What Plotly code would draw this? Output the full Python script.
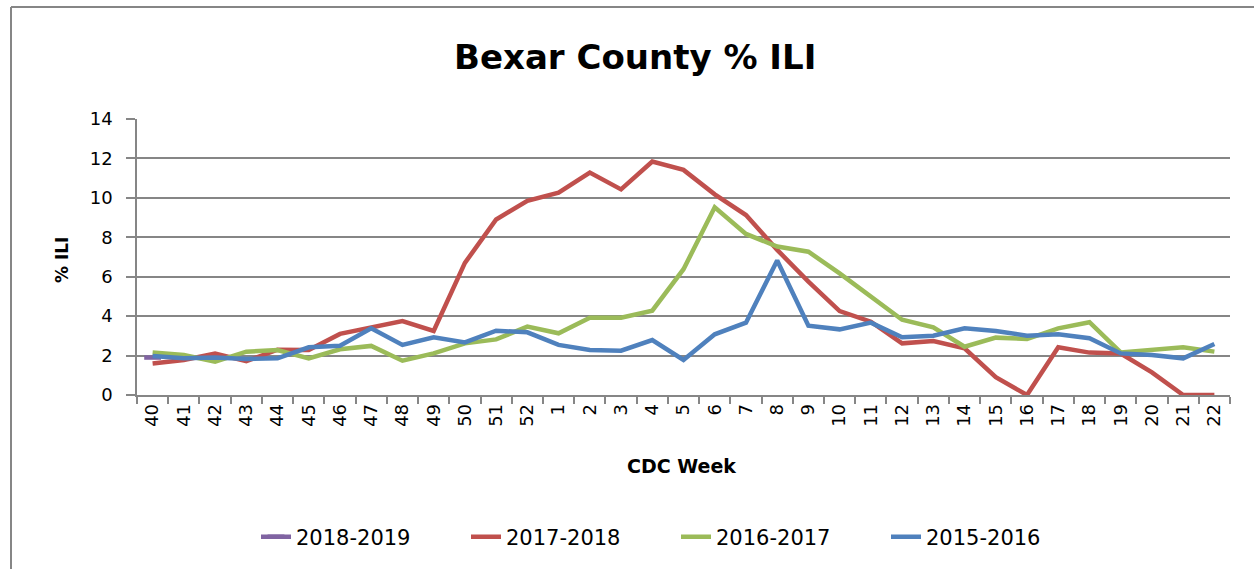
import plotly.graph_objects as go

weeks = ["40", "41", "42", "43", "44", "45", "46", "47", "48", "49", "50", "51", "52",
         "1", "2", "3", "4", "5", "6", "7", "8", "9", "10", "11", "12", "13", "14",
         "15", "16", "17", "18", "19", "20", "21", "22"]

s2018_2019 = [1.9]
s2017_2018 = [1.6, 1.78, 2.1, 1.72, 2.3, 2.28, 3.1, 3.45, 3.75, 3.25, 6.7, 8.9, 9.85,
              10.26, 11.28, 10.43, 11.84, 11.42, 10.18, 9.13, 7.36, 5.75, 4.26, 3.72, 2.62,
              2.74, 2.37, 0.9, 0.0, 2.42, 2.15, 2.1, 1.15, 0.0, 0.0]
s2016_2017 = [2.16, 2.03, 1.69, 2.2, 2.28, 1.86, 2.32, 2.49, 1.74, 2.11, 2.62, 2.82, 3.47,
              3.13, 3.92, 3.92, 4.28, 6.38, 9.52, 8.17, 7.53, 7.27, 6.17, 4.96, 3.82,
              3.43, 2.45, 2.91, 2.84, 3.38, 3.69, 2.16, 2.28, 2.42, 2.2]
s2015_2016 = [1.98, 1.86, 1.9, 1.83, 1.86, 2.42, 2.5, 3.38, 2.54, 2.93, 2.67, 3.26, 3.18,
              2.54, 2.28, 2.25, 2.79, 1.78, 3.08, 3.67, 6.82, 3.52, 3.33, 3.67, 2.93,
              3.01, 3.38, 3.25, 3.01, 3.08, 2.88, 2.11, 2.03, 1.86, 2.59]

FONT = "DejaVu Sans"
GRID = "#868686"

fig = go.Figure()
fig.add_trace(go.Scatter(
    x=weeks[:len(s2018_2019)], y=s2018_2019, name="2018-2019",
    mode="lines+markers", line=dict(color="#8064A2", width=4.5),
    marker=dict(symbol="line-ew", size=12, line=dict(color="#8064A2", width=4.5))))
fig.add_trace(go.Scatter(x=weeks, y=s2017_2018, name="2017-2018", mode="lines",
                         line=dict(color="#C0504D", width=4.5)))
fig.add_trace(go.Scatter(x=weeks, y=s2016_2017, name="2016-2017", mode="lines",
                         line=dict(color="#9BBB59", width=4.5)))
fig.add_trace(go.Scatter(x=weeks, y=s2015_2016, name="2015-2016", mode="lines",
                         line=dict(color="#4F81BD", width=4.5)))

L, R, T, B = 137, 24, 119, 174
W, H = 1254, 569
pw, ph = W - L - R, H - T - B


def px(x):
    return (x - L) / pw


def py(y):
    return (H - B - y) / ph


fig.update_layout(
    width=W, height=H, autosize=False,
    margin=dict(l=L, r=R, t=T, b=B, pad=0, autoexpand=False),
    paper_bgcolor="white", plot_bgcolor="white",
    font=dict(family=FONT, color="black"),
    showlegend=True,
    legend=dict(orientation="h", x=px(256), xanchor="left", y=py(537), yanchor="middle",
                font=dict(family=FONT, size=21, color="black"),
                entrywidth=165, entrywidthmode="pixels", traceorder="normal",
                bgcolor="rgba(0,0,0,0)", itemwidth=30),
    xaxis=dict(type="category", categoryorder="array", categoryarray=weeks,
               range=[-0.5, len(weeks) - 0.5], showgrid=False, zeroline=False,
               showline=True, linecolor=GRID, linewidth=1.5,
               ticks="outside", tickson="boundaries", ticklen=7, tickcolor=GRID, tickwidth=1.5,
               tickangle=-90, tickfont=dict(family=FONT, size=18, color="black")),
    yaxis=dict(range=[0, 14], dtick=2, showgrid=True, gridcolor=GRID, gridwidth=1.5,
               zeroline=False, showline=True, linecolor=GRID, linewidth=1.5,
               ticks="outside", ticklen=9, tickcolor=GRID, tickwidth=1.5,
               ticklabelstandoff=10,
               tickfont=dict(family=FONT, size=18, color="black")),
    annotations=[
        dict(text="Bexar County % ILI", x=px(635), y=py(57), xref="paper", yref="paper",
             showarrow=False, xanchor="center", yanchor="middle",
             font=dict(family=FONT, size=34, color="black", weight="bold")),
        dict(text="CDC Week", x=px(681), y=py(466), xref="paper", yref="paper",
             showarrow=False, xanchor="center", yanchor="middle",
             font=dict(family=FONT, size=19, color="black", weight="bold")),
        dict(text="% ILI", x=px(62), y=py(260), xref="paper", yref="paper",
             showarrow=False, xanchor="center", yanchor="middle", textangle=-90,
             font=dict(family=FONT, size=17, color="black", weight="bold")),
    ],
    shapes=[
        dict(type="line", xref="paper", yref="paper", x0=px(11), x1=px(11),
             y0=py(7), y1=py(H), line=dict(color=GRID, width=2)),
        dict(type="line", xref="paper", yref="paper", x0=px(11), x1=px(W),
             y0=py(7), y1=py(7), line=dict(color=GRID, width=2)),
    ],
)

fig.write_html(
    "out.html",
    config={"responsive": False, "displayModeBar": False},
    default_width="1254px", default_height="569px",
    post_script="document.body.style.margin='0';document.body.style.overflow='hidden';",
)
